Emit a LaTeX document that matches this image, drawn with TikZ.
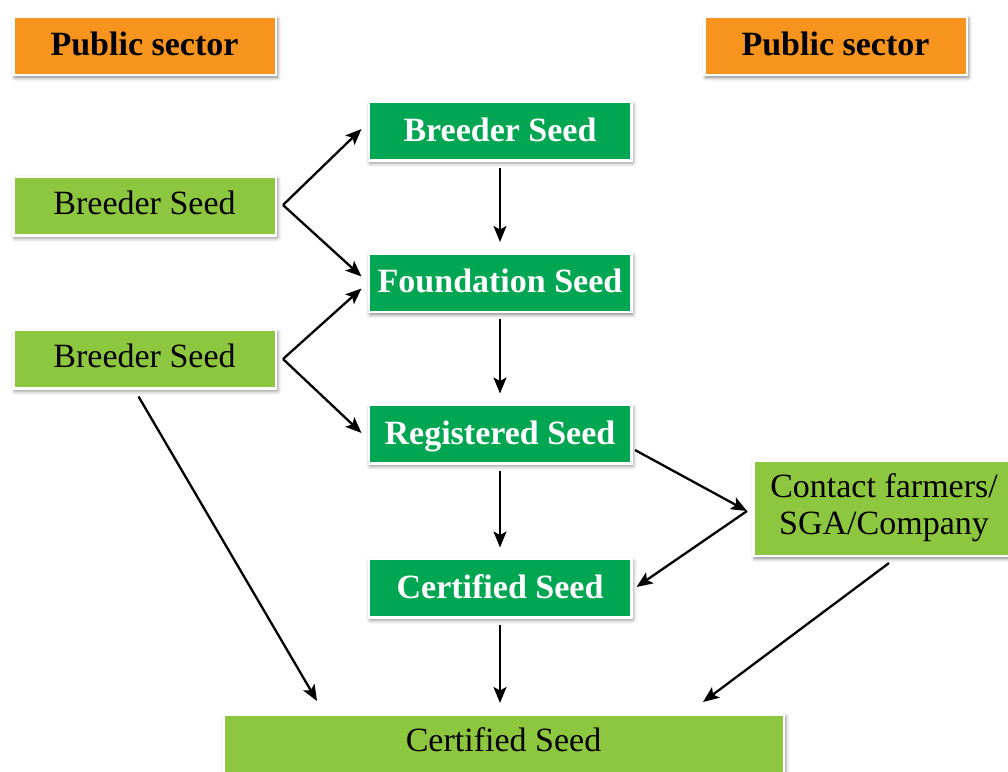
\documentclass[tikz,border=0pt]{standalone}
\usepackage{fontspec}
\setmainfont{Liberation Serif}
\usetikzlibrary{arrows.meta,calc,shadows.blur}

\definecolor{sectorOrange}{RGB}{247,148,30}
\definecolor{leafGreen}{RGB}{141,198,63}
\definecolor{deepGreen}{RGB}{0,166,81}

\begin{document}
\begin{tikzpicture}[x=1pt,y=-1pt,
  box/.style={draw=white, line width=2.5pt, inner sep=0pt,
    minimum width=262.5pt, minimum height=58.5pt,
    font=\fontsize{34}{37}\selectfont,
    blur shadow={shadow xshift=1.5pt, shadow yshift=-2.5pt,
                 shadow blur radius=4pt, shadow opacity=55}},
  oneline/.style={text height=23pt, text depth=7pt},
  boldline/.style={text height=25pt, text depth=5pt},
  sector/.style={box, boldline, fill=sectorOrange, text=black,
    font=\fontsize{34}{37}\selectfont\bfseries},
  source/.style={box, oneline, fill=leafGreen, text=black},
  stage/.style={box, boldline, fill=deepGreen, text=white,
    font=\fontsize{34}{37}\selectfont\bfseries},
  link/.style={line width=2.3pt, draw=black,
    -{Stealth[length=16pt,width=13pt,inset=3.5pt]}},
  down/.style={link, shorten <=6pt, shorten >=10pt}
]
\clip (0,0) rectangle (1008,771);

% headers
\node[sector] (PSL) at (144.5,45.5) {Public sector};
\node[sector] (PSR) at (835.5,45.5) {Public sector};

% left-hand sources
\node[source] (B1) at (144.5,206) {Breeder Seed};
\node[source] (B2) at (144.5,359) {Breeder Seed};

% central seed chain
\node[stage] (DB) at (500,131)   {Breeder Seed};
\node[stage] (FS) at (500,282.5) {Foundation Seed};
\node[stage] (RS) at (500,434)   {Registered Seed};
\node[stage] (CS) at (500,588)   {Certified Seed};

% contact growers
\node[box, fill=leafGreen, text=black, align=center,
      minimum width=261.5pt, minimum height=95.5pt] (CF) at (884,508)
  {Contact farmers/\\SGA/Company};

% final product
\node[source, minimum width=560.5pt] (CB) at (503.5,743.5) {Certified Seed};

% split points
\coordinate (b1o) at ($(B1.east)+(6,-1)$);
\coordinate (b2o) at ($(B2.east)+(6,0)$);
\coordinate (cw)  at ($(CF.west)+(-5,3)$);

% connectors
\draw[link] (b1o) -- ($(DB.west)+(-6,-2)$);
\draw[link] (b1o) -- ($(FS.west)+(-6,-6)$);
\draw[link] (b2o) -- ($(FS.west)+(-6,6)$);
\draw[link] (b2o) -- ($(RS.west)+(-6,-1)$);
\draw[link] ($(B2.south)+(-6,7)$) -- ($(CB.north)+(-186.5,-12)$);

\draw[down] (DB.south) -- (FS.north);
\draw[down] (FS.south) -- (RS.north);
\draw[down] (RS.south) -- (CS.north);
\draw[down] (CS.south) -- (CB.north -| CS.south);

\draw[link] ($(RS.east)+(2.5,16)$) -- (cw);
\draw[link] (cw) -- ($(CS.east)+(4,-1)$);
\draw[link] ($(CF.south)+(5,6)$) -- ($(CB.north)+(199.5,-11)$);
\end{tikzpicture}
\end{document}
